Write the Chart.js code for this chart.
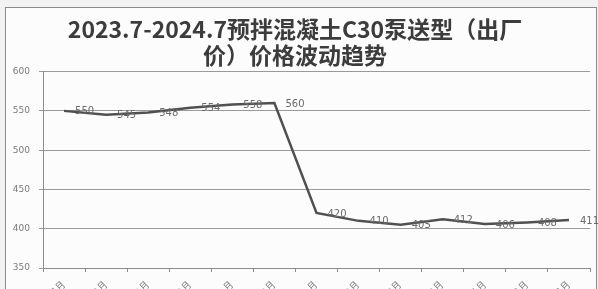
<!DOCTYPE html>
<html>
<head>
<meta charset="utf-8">
<script src="https://cdn.jsdelivr.net/npm/chart.js@4/dist/chart.umd.min.js"></script>
<style>
  html, body { margin: 0; padding: 0; background: #f2f2f2; overflow: hidden; }
  #frame { position: absolute; left: 5px; top: 7px; width: 590px; height: 300px;
           background: #fcfcfc; border: 1px solid #8a8a8a; }
  #wrap { position: absolute; left: 0; top: 0; width: 598px; height: 289px; }
</style>
</head>
<body>
<div id="frame"></div>
<div id="wrap"><canvas id="priceChart" width="598" height="289"></canvas></div>
<script>
// 月份 (2023.7 - 2024.7)
const months = ['2023年7月', '2023年8月', '2023年9月', '2023年10月', '2023年11月', '2023年12月',
                '2024年1月', '2024年2月', '2024年3月', '2024年4月', '2024年5月', '2024年6月', '2024年7月'];
// C30泵送型 出厂价 (元/m³)
const prices = [550, 545, 548, 554, 558, 560, 420, 410, 405, 412, 406, 408, 411];
const titleLines = ['2023.7-2024.7预拌混凝土C30泵送型（出厂', '价）价格波动趋势'];
const yMin = 350, yMax = 600, yStep = 50;

// Datenlabels rechts neben den Punkten
const valueLabels = {
    id: 'valueLabels',
    afterDatasetsDraw(chart) {
        const ctx = chart.ctx;
        const meta = chart.getDatasetMeta(0);
        ctx.save();
        ctx.font = '10px "DejaVu Sans", sans-serif';
        ctx.fillStyle = '#6a6a6a';
        ctx.textAlign = 'left';
        ctx.textBaseline = 'middle';
        meta.data.forEach((pt, i) => {
            ctx.fillText(String(prices[i]), pt.x + 11, pt.y + 1);
        });
        ctx.restore();
    }
};

new Chart(document.getElementById('priceChart'), {
    type: 'line',
    data: {
        labels: months,
        datasets: [{
            data: prices,
            borderColor: '#505050',
            borderWidth: 2.5,
            pointRadius: 0,
            tension: 0,
            fill: false
        }]
    },
    options: {
        responsive: false,
        animation: false,
        layout: { padding: { left: 0, right: 8, top: 0, bottom: 0 } },
        plugins: {
            legend: { display: false },
            tooltip: { enabled: false },
            title: {
                display: true,
                text: titleLines,
                color: '#3c3c3c',
                font: { family: '"Noto Sans CJK SC", sans-serif', size: 23, weight: 'bold', lineHeight: 1.1 },
                padding: { top: 17, bottom: 4 }
            }
        },
        scales: {
            x: {
                offset: true,
                grid: { offset: true, drawOnChartArea: false, tickLength: 4, color: '#8a8a8a' },
                border: { color: '#8a8a8a' },
                ticks: { autoSkip: false, minRotation: 45, maxRotation: 45, color: '#777',
                         font: { family: '"DejaVu Sans", sans-serif', size: 10 }, padding: 7 },
                afterFit(s) { s.height = 21; }
            },
            y: {
                min: yMin,
                max: yMax,
                ticks: { stepSize: yStep, color: '#7a7a7a', padding: 9,
                         font: { family: '"DejaVu Sans", sans-serif', size: 9 } },
                grid: { color: '#9a9a9a', tickLength: 4 },
                border: { color: '#8a8a8a' },
                afterFit(s) { s.width = 43; }
            }
        }
    },
    plugins: [valueLabels]
});
</script>
</body>
</html>
